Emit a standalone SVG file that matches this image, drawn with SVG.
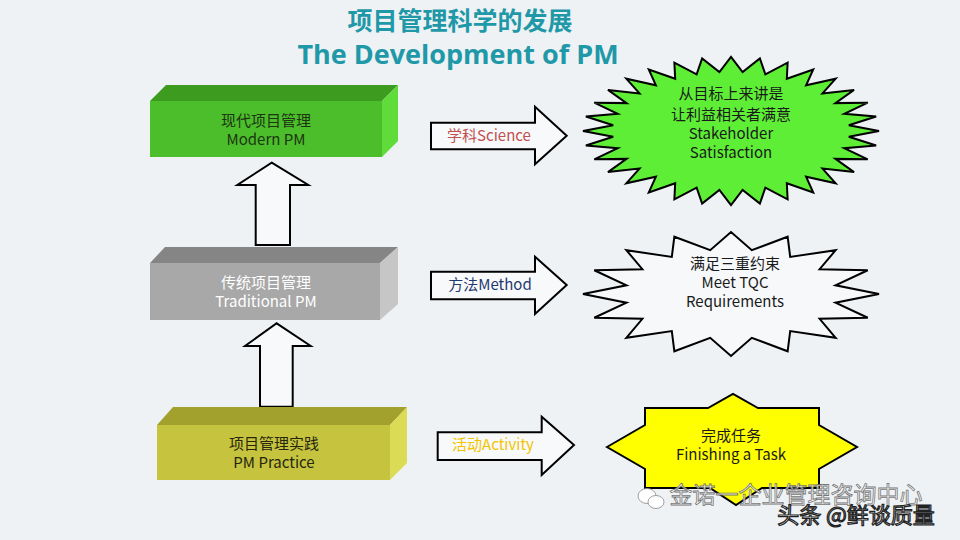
<svg xmlns="http://www.w3.org/2000/svg" width="960" height="540" viewBox="0 0 960 540">
<style>
text{font-family:"Noto Sans CJK SC","Liberation Sans",sans-serif;text-anchor:middle}
.t{font-size:15px}
.arr{fill:#f8f9fb;stroke:#000;stroke-width:2}
.ns{vector-effect:non-scaling-stroke}
</style>
<rect width="960" height="540" fill="#eef2f5"/>
<g id="title" fill="#1f98a8" font-weight="bold">
<text x="460" y="30" font-size="25">项目管理科学的发展</text>
<text x="458" y="64" font-size="27" style="font-family:'Open Sans','Noto Sans CJK SC',sans-serif">The Development of PM</text>
</g>
<g id="connectors">
<polygon class="arr" points="271.7,162.7 308.3,185 290,185 290,245 255.7,245 255.7,185 237.3,185"/>
<polygon class="arr" points="276.7,323.3 310.7,346 292.7,346 292.7,406.7 260,406.7 260,346 245,346"/>
<g id="arrow-science">
<polygon class="arr" points="431,122.7 535,122.7 535,106.7 566.7,135.7 535,164.3 535,149.3 431,149.3"/>
<text class="t" x="489" y="141" fill="#c0504d">学科Science</text>
</g>
<g id="arrow-method">
<polygon class="arr" points="431,271.7 535,271.7 535,256.7 566.7,285 535,314 535,299.3 431,299.3"/>
<text class="t" x="490" y="290" fill="#1f3a6e">方法Method</text>
</g>
<g id="arrow-activity">
<polygon class="arr" points="437.7,432.3 541.7,432.3 541.7,416.7 574,445 541.7,475 541.7,460 437.7,460"/>
<text class="t" x="493" y="450" fill="#f2c500">活动Activity</text>
</g>
</g>
<g id="modern-pm">
<polygon points="150,101 166,85 398,85 382,101" fill="#3d9c20"/>
<polygon points="382,101 398,85 398,141 382,157" fill="#5fdc3a"/>
<rect x="150" y="101" width="232" height="56" fill="#4cbe2b"/>
<text class="t" x="266" y="126" fill="#1c3512">现代项目管理</text>
<text class="t" x="266" y="145" fill="#1c3512">Modern PM</text>
</g>
<g id="traditional-pm">
<polygon points="150,263 165,247 398,247 380,263" fill="#858585"/>
<polygon points="380,263 398,247 398,304 380,320" fill="#c6c6c6"/>
<rect x="150" y="263" width="230" height="57" fill="#a8a8a8"/>
<text class="t" x="266" y="288" fill="#ffffff">传统项目管理</text>
<text class="t" x="266" y="307" fill="#ffffff">Traditional PM</text>
</g>
<g id="pm-practice">
<polygon points="157,425 173,407 407,407 390,425" fill="#a3a12e"/>
<polygon points="390,425 407,407 407,463 390,480" fill="#dcdb55"/>
<rect x="157" y="425" width="233" height="55" fill="#c6c43e"/>
<text class="t" x="274" y="449" fill="#262610">项目管理实践</text>
<text class="t" x="274" y="468" fill="#262610">PM Practice</text>
</g>
<g id="stakeholder">
<polygon class="ns" transform="translate(731,131) scale(1.48,0.74)" fill="#5eee36" stroke="#000" stroke-width="2" points="100,0 79.61,7.84 98.08,19.51 76.56,23.22 92.39,38.27 70.55,37.71 83.15,55.56 61.84,50.75 70.71,70.71 50.75,61.84 55.56,83.15 37.71,70.55 38.27,92.39 23.22,76.56 19.51,98.08 7.84,79.61 0,100 -7.84,79.61 -19.51,98.08 -23.22,76.56 -38.27,92.39 -37.71,70.55 -55.56,83.15 -50.75,61.84 -70.71,70.71 -61.84,50.75 -83.15,55.56 -70.55,37.71 -92.39,38.27 -76.56,23.22 -98.08,19.51 -79.61,7.84 -100,0 -79.61,-7.84 -98.08,-19.51 -76.56,-23.22 -92.39,-38.27 -70.55,-37.71 -83.15,-55.56 -61.84,-50.75 -70.71,-70.71 -50.75,-61.84 -55.56,-83.15 -37.71,-70.55 -38.27,-92.39 -23.22,-76.56 -19.51,-98.08 -7.84,-79.61 0,-100 7.84,-79.61 19.51,-98.08 23.22,-76.56 38.27,-92.39 37.71,-70.55 55.56,-83.15 50.75,-61.84 70.71,-70.71 61.84,-50.75 83.15,-55.56 70.55,-37.71 92.39,-38.27 76.56,-23.22 98.08,-19.51 79.61,-7.84"/>
<g class="t" fill="#1a1a1a">
<text x="731" y="99">从目标上来讲是</text>
<text x="731" y="120">让利益相关者满意</text>
<text x="731" y="139">Stakeholder</text>
<text x="731" y="158">Satisfaction</text>
</g>
</g>
<g id="tqc">
<polygon class="ns" transform="translate(731,294) scale(1.48,0.62)" fill="#f6f8fa" stroke="#000" stroke-width="2" points="100,0 70.62,14.05 92.39,38.27 59.87,40 70.71,70.71 40,59.87 38.27,92.39 14.05,70.62 0,100 -14.05,70.62 -38.27,92.39 -40,59.87 -70.71,70.71 -59.87,40 -92.39,38.27 -70.62,14.05 -100,0 -70.62,-14.05 -92.39,-38.27 -59.87,-40 -70.71,-70.71 -40,-59.87 -38.27,-92.39 -14.05,-70.62 0,-100 14.05,-70.62 38.27,-92.39 40,-59.87 70.71,-70.71 59.87,-40 92.39,-38.27 70.62,-14.05"/>
<g class="t" fill="#1a1a1a">
<text x="735" y="269">满足三重约束</text>
<text x="735" y="288">Meet TQC</text>
<text x="735" y="307">Requirements</text>
</g>
</g>
<g id="task">
<polygon fill="#ffff00" stroke="#000" stroke-width="2" points="607,447 645,425 645,408 708,408 733,394 758,408 819,408 819,425 857,447 819,469 819,488 762,488 736,505 710,488 645,488 645,469"/>
<g class="t" fill="#1a1a1a">
<text x="731" y="441">完成任务</text>
<text x="731" y="460">Finishing a Task</text>
</g>
</g>
<g id="watermark" font-size="22" fill="#ffffff" stroke="#6a6a6a" stroke-width="0.8">
<ellipse cx="647" cy="496" rx="9" ry="7.5" fill="#fff" stroke="#888"/>
<ellipse cx="656" cy="502" rx="8" ry="6.5" fill="#fff" stroke="#888"/>
<text x="796" y="503" font-size="23" opacity="0.9">金诺一企业管理咨询中心</text>
<text x="856" y="523" stroke="#222" stroke-width="1.2">头条 @鲜谈质量</text>
</g>
</svg>
